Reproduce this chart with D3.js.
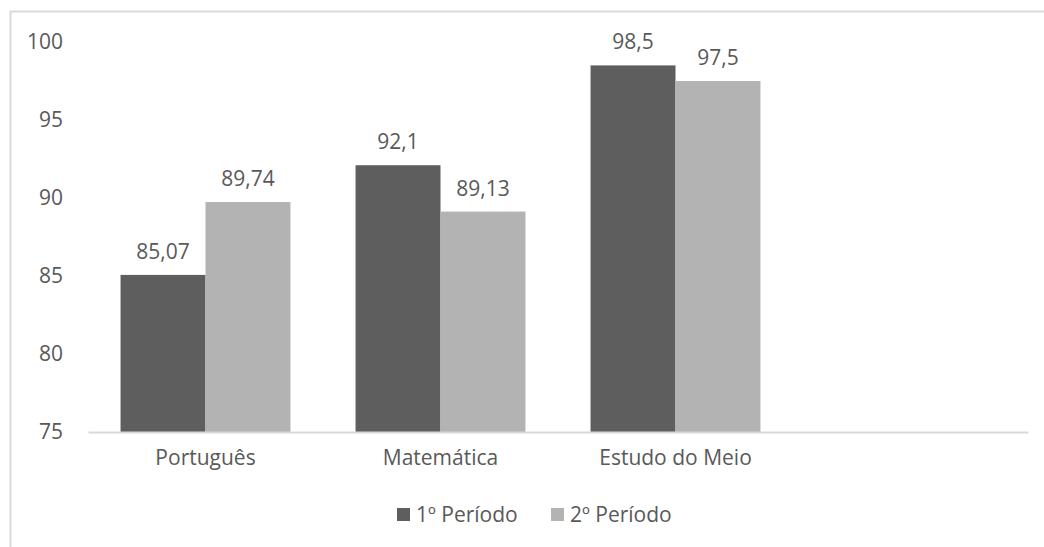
<!DOCTYPE html>
<html>
<head>
<meta charset="utf-8">
<script src="https://cdn.jsdelivr.net/npm/d3@7"></script>
<style>
  body { margin: 0; background: #fff; }
  text { font-family: "Open Sans", "Noto Sans", sans-serif; fill: #595959; }
</style>
</head>
<body>
<div id="chart"></div>
<script>
// data
var categories = ["Português", "Matemática", "Estudo do Meio", ""];
var series = ["1º Período", "2º Período"];
var periodo1 = [85.07, 92.1, 98.5, null];
var periodo2 = [89.74, 89.13, 97.5, null];
var yTicks = [75, 80, 85, 90, 95, 100];
var colors = ["#5e5e5e", "#b3b3b3"];

var W = 1044, H = 547;
var margin = {top: 42, right: 16, bottom: 115, left: 88},
  width = W - margin.left - margin.right,
  height = H - margin.top - margin.bottom;

var fs = "21px";

var svg = d3.select("#chart")
  .append("svg")
    .attr("width", W)
    .attr("height", H);

// outer frame (only top and left edge visible)
svg.append("line").attr("x1", 10).attr("x2", W).attr("y1", 11.5).attr("y2", 11.5)
  .style("stroke", "#d9d9d9").style("stroke-width", 2);
svg.append("line").attr("x1", 10.5).attr("x2", 10.5).attr("y1", 11).attr("y2", H)
  .style("stroke", "#d9d9d9").style("stroke-width", 2);

var g = svg.append("g")
  .attr("transform", "translate(" + margin.left + "," + margin.top + ")");

var x0 = d3.scaleBand()
  .domain(categories)
  .range([0, width])
  .paddingInner(0.277)
  .paddingOuter(0.1385);

var x1 = d3.scaleBand()
  .domain(series)
  .range([0, x0.bandwidth()]);

var y = d3.scaleLinear()
  .domain([75, 100])
  .range([height, 0]);

// y axis labels
var yAxis = g.append("g")
  .call(d3.axisLeft(y).tickValues(yTicks).tickSize(0).tickPadding(25));
yAxis.select(".domain").remove();
yAxis.selectAll("text").style("font-size", fs).style("fill", "#595959")
  .style("font-family", "'Open Sans', sans-serif");

var rows = categories.map(function(c, i) {
  return [
    {cat: c, s: series[0], v: periodo1[i], k: 0},
    {cat: c, s: series[1], v: periodo2[i], k: 1}
  ];
});

var groups = g.selectAll(".grp")
  .data(rows)
  .enter().append("g")
  .attr("transform", function(d) { return "translate(" + x0(d[0].cat) + ",0)"; });

var bars = groups.selectAll("rect")
  .data(function(d) { return d.filter(function(e) { return e.v != null; }); })
  .enter();

bars.append("rect")
  .attr("x", function(d) { return x1(d.s); })
  .attr("y", function(d) { return y(d.v); })
  .attr("width", x1.bandwidth())
  .attr("height", function(d) { return height - y(d.v); })
  .style("fill", function(d) { return colors[d.k]; });

bars.append("text")
  .attr("x", function(d) { return x1(d.s) + x1.bandwidth() / 2; })
  .attr("y", function(d) { return y(d.v) - 16; })
  .style("text-anchor", "middle")
  .style("font-size", fs)
  .text(function(d) { return String(d.v).replace(".", ","); });

// x axis
var xAxis = g.append("g")
  .attr("transform", "translate(0," + height + ")")
  .call(d3.axisBottom(x0).tickSize(0).tickPadding(18));
xAxis.select(".domain").style("stroke", "#d9d9d9").style("stroke-width", 2);
xAxis.selectAll("text").style("font-size", fs).style("fill", "#595959")
  .style("font-family", "'Open Sans', sans-serif");

// legend
var legend = svg.append("g").attr("transform", "translate(397,508)");
var lx = [0, 154];
series.forEach(function(s, i) {
  legend.append("rect")
    .attr("x", lx[i]).attr("y", 0)
    .attr("width", 13).attr("height", 13)
    .style("fill", colors[i]);
  legend.append("text")
    .attr("x", lx[i] + 19).attr("y", 14)
    .style("font-size", fs)
    .text(s);
});
</script>
</body>
</html>
